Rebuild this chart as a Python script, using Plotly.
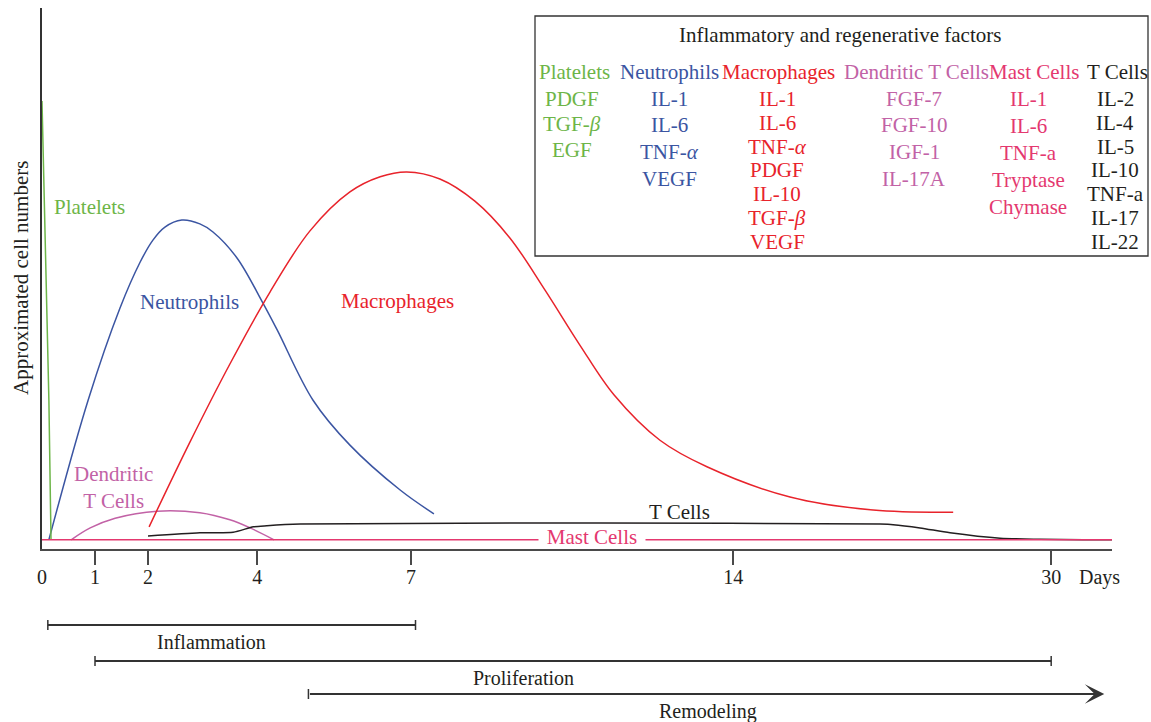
import numpy as np
import plotly.graph_objects as go

FONT = "Liberation Serif, Times New Roman, serif"

# ---------------- data ----------------
# compressed timeline: day ticks and their positions along the axis
TICK_DAYS = [0, 1, 2, 4, 7, 14, 30]
TICK_POS = [0, 1, 2, 4.06, 6.96, 13.04, 19.04]
TICK_TEXT = ["0", "1", "2", "4", "7", "14", "30"]
AXIS_END_DAY = 33.06

platelets_days = [0.0, 0.09, 0.13, 0.17]
platelets_vals = [82.8, 46.0, 27.5, 1.7]

neutrophils_days = [0.13, 0.87, 1.47, 1.85, 2.09, 2.31, 2.62, 2.95, 3.19, 3.63, 4.11, 4.39, 5.09, 5.81, 6.79, 7.50]
neutrophils_vals = [1.7, 27.5, 44.5, 53.0, 57.1, 59.5, 60.8, 60.1, 58.6, 53.8, 45.5, 40.5, 27.5, 19.2, 10.9, 6.5]

macrophages_days = [2.02, 2.77, 3.50, 4.25, 5.03, 5.81, 6.40, 6.92, 7.63, 8.39, 9.15, 9.91,
                    10.67, 11.41, 12.41, 13.43, 16.86, 21.04, 25.07]
macrophages_vals = [4.1, 19.8, 34.2, 47.5, 58.8, 66.0, 68.8, 69.7, 68.4, 64.3, 57.5, 47.9,
                    37.7, 28.5, 20.1, 15.2, 9.6, 7.2, 6.8]

dendritic_days = [0.55, 0.91, 1.38, 2.17, 2.95, 3.50, 3.87, 4.33]
dendritic_vals = [1.7, 3.9, 5.7, 7.0, 6.7, 5.4, 3.9, 1.7]

tcells_days = [2.0, 2.95, 3.56, 3.93, 4.19, 4.84, 11.11, 21.39, 22.05, 23.40, 24.91, 27.43, 29.44, 31.61, 33.06]
tcells_vals = [2.4, 3.0, 3.1, 4.1, 4.3, 4.6, 4.8, 4.6, 4.5, 3.9, 3.0, 2.0, 1.8, 1.7, 1.7]

mast_days = [0.0, 33.06]
mast_vals = [1.7, 1.7]

PHASES = ["Inflammation", "Proliferation", "Remodeling"]
PHASE_START = [0.11, 1.0, 5.0]
PHASE_END = [7.1, 30.0, 32.67]

FACTOR_TITLE = "Inflammatory and regenerative factors"
FACTOR_HEADERS = ["Platelets", "Neutrophils", "Macrophages", "Dendritic T Cells", "Mast Cells", "T Cells"]
FACTOR_ITEMS = [
    ["PDGF", "TGF-<i>β</i>", "EGF"],
    ["IL-1", "IL-6", "TNF-<i>α</i>", "VEGF"],
    ["IL-1", "IL-6", "TNF-<i>α</i>", "PDGF", "IL-10", "TGF-<i>β</i>", "VEGF"],
    ["FGF-7", "FGF-10", "IGF-1", "IL-17A"],
    ["IL-1", "IL-6", "TNF-a", "Tryptase", "Chymase"],
    ["IL-2", "IL-4", "IL-5", "IL-10", "TNF-a", "IL-17", "IL-22"],
]

# ---------------- style ----------------
GREEN = "#6db548"
BLUE = "#3b55a2"
RED = "#e8232b"
PURPLE = "#c262a6"
PINK = "#e4386f"
BLACK = "#231f20"
AXC = "#4a4a4a"
FACTOR_COLORS = [GREEN, BLUE, RED, PURPLE, PINK, BLACK]
HEADER_X = [574, 669, 778, 916, 1034, 1117]
ITEM_X = [572, 669, 777, 914, 1028, 1115]
ITEM_STEP = [25.5, 26.5, 23.8, 26.5, 27.0, 23.8]

L, T, W, H = 42, 8, 1070, 541


def px(x):
    return (x - L) / W


def py(y):
    return (T + H - y) / H


def day2pos(d):
    d = np.asarray(d, dtype=float)
    p = np.interp(d, TICK_DAYS, TICK_POS)
    slope = (TICK_POS[-1] - TICK_POS[-2]) / (TICK_DAYS[-1] - TICK_DAYS[-2])
    return np.where(d > TICK_DAYS[-1], TICK_POS[-1] + (d - TICK_DAYS[-1]) * slope, p)


fig = go.Figure()


def add_curve(days, vals, color, shape="spline", smoothing=1.0):
    fig.add_trace(go.Scatter(
        x=day2pos(days), y=vals, mode="lines",
        line=dict(color=color, width=1.5, shape=shape, smoothing=smoothing),
        hoverinfo="skip", showlegend=False))


add_curve(dendritic_days, dendritic_vals, PURPLE)
add_curve(neutrophils_days, neutrophils_vals, BLUE)
add_curve(macrophages_days, macrophages_vals, RED)
add_curve(tcells_days, tcells_vals, BLACK, smoothing=0.7)
add_curve(platelets_days, platelets_vals, GREEN, shape="linear")
add_curve(mast_days, mast_vals, PINK, shape="linear")

ann = []


def label(text, x, y, color=BLACK, size=21, xanchor="center", **kw):
    ann.append(dict(text=text, x=px(x), y=py(y), xref="paper", yref="paper",
                    xanchor=xanchor, yanchor="middle", showarrow=False,
                    font=dict(family=FONT, size=size, color=color), **kw))


# curve labels
label("Platelets", 52, 207, GREEN, xanchor="left")
label("Neutrophils", 189, 302, BLUE)
label("Macrophages", 397, 301, RED)
label("Dendritic<br>T Cells", 113, 487, PURPLE)
label("T Cells", 679, 512, BLACK)
label("Mast Cells", 592, 537, PINK, bgcolor="white", width=104, height=18, borderpad=1)

# axis texts
label("0", 42, 577, BLACK, size=20)
label("Days", 1099, 577, BLACK, size=20)
label("Approximated cell numbers", 21, 278, BLACK, textangle=-90)

# factor box
label(FACTOR_TITLE, 840, 35, BLACK)
for i, head in enumerate(FACTOR_HEADERS):
    label(head, HEADER_X[i], 72, FACTOR_COLORS[i])
    for j, item in enumerate(FACTOR_ITEMS[i]):
        label(item, ITEM_X[i], 99 + j * ITEM_STEP[i], FACTOR_COLORS[i])

shapes = [dict(type="rect", xref="paper", yref="paper", x0=px(535), x1=px(1148),
               y0=py(16), y1=py(256), line=dict(color="#333333", width=1.3))]

# phase bars
PHASE_Y = [625, 661, 694]
PHASE_LABEL_X = [211, 523, 708]
for i, name in enumerate(PHASES):
    yb = py(PHASE_Y[i])
    cap = 5 / H
    x0 = float(day2pos(PHASE_START[i]))
    x1 = float(day2pos(PHASE_END[i]))
    shapes.append(dict(type="line", xref="x", yref="paper", x0=x0, x1=x0,
                       y0=yb - cap, y1=yb + cap, line=dict(color="#333333", width=1.5)))
    if i < 2:
        shapes.append(dict(type="line", xref="x", yref="paper", x0=x0, x1=x1,
                           y0=yb, y1=yb, line=dict(color="#333333", width=1.8)))
        shapes.append(dict(type="line", xref="x", yref="paper", x0=x1, x1=x1,
                           y0=yb - cap, y1=yb + cap, line=dict(color="#333333", width=1.5)))
    else:
        ann.append(dict(x=x1, y=yb, xref="x", yref="paper", ax=x0, ay=0,
                        axref="x", ayref="pixel", text="", showarrow=True,
                        arrowhead=3, arrowsize=1.8, arrowwidth=1.8, arrowcolor="#333333"))
    label(name, PHASE_LABEL_X[i], PHASE_Y[i] + 17, BLACK, size=20)

fig.update_layout(
    width=1151, height=722,
    margin=dict(l=L, r=1151 - L - W, t=T, b=722 - T - H),
    paper_bgcolor="white", plot_bgcolor="white",
    showlegend=False,
    annotations=ann, shapes=shapes,
    xaxis=dict(range=[0, float(day2pos(AXIS_END_DAY))], showline=True, linecolor=AXC, linewidth=2,
               ticks="outside", ticklen=14, tickwidth=1.5, tickcolor=AXC,
               tickvals=[float(v) for v in day2pos(TICK_DAYS[1:])], ticktext=TICK_TEXT[1:],
               tickfont=dict(family=FONT, size=20, color=BLACK), ticklabelstandoff=-5,
               showgrid=False, zeroline=False, fixedrange=True),
    yaxis=dict(range=[0, 100], showline=True, linecolor="#333333", linewidth=1.5,
               showticklabels=False, ticks="", showgrid=False, zeroline=False, fixedrange=True),
)

fig.write_html("out.html", config={"displayModeBar": False},
               post_script="document.body.style.margin='0';document.body.style.overflow='hidden';")
